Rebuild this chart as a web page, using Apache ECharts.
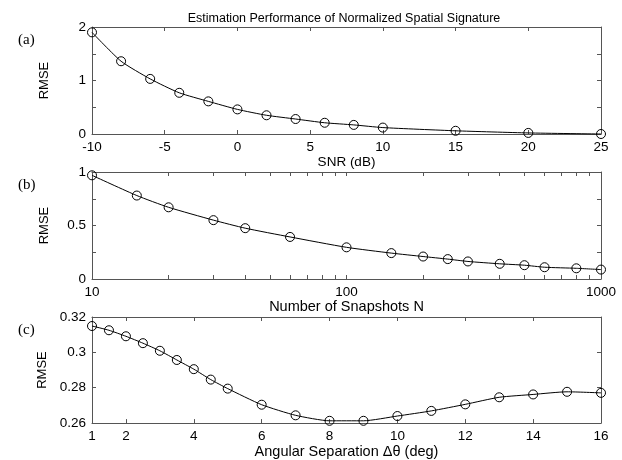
<!DOCTYPE html>
<html>
<head>
<meta charset="utf-8">
<script src="https://cdn.jsdelivr.net/npm/echarts@6/dist/echarts.min.js"></script>
<style>
	html, body { margin: 0; padding: 0; background: #fff; }
	#main { width: 622px; height: 460px; }
</style>
</head>
<body>
<div id="main"></div>
<script>
//////////// 데이터 ////////////
// (a) SNR
var snrX = [-10, -8, -6, -4, -2, 0, 2, 4, 6, 8, 10, 15, 20, 25];
var snrRmse = [1.9, 1.36, 1.03, 0.77, 0.61, 0.46, 0.35, 0.28, 0.21, 0.17, 0.12, 0.06, 0.02, 0.0];
var snrTickLabels = [-10, -5, 0, 5, 10, 15, 20, 25];
var snrRmseLabels = [0, 1, 2];

// (b) snapshots
var snapX = [10, 15, 20, 30, 40, 60, 100, 150, 200, 250, 300, 400, 500, 600, 800, 1000];
var snapRmse = [0.969, 0.78, 0.67, 0.55, 0.475, 0.393, 0.296, 0.242, 0.21, 0.186, 0.164, 0.142, 0.129, 0.11, 0.1, 0.088];
var snapTickLabels = [10, 100, 1000];
var snapTicks = [10, 20, 30, 40, 50, 60, 70, 80, 90, 100, 200, 300, 400, 500, 600, 700, 800, 900, 1000];
var snapRmseLabels = [0, 0.5, 1];

// (c) angular separation
var angX = [1, 1.5, 2, 2.5, 3, 3.5, 4, 4.5, 5, 6, 7, 8, 9, 10, 11, 12, 13, 14, 15, 16];
var angRmse = [0.3149, 0.3125, 0.3091, 0.3052, 0.3009, 0.2957, 0.2905, 0.2846, 0.2795, 0.2704, 0.2644, 0.2613, 0.2613, 0.264, 0.2669, 0.2706, 0.2746, 0.2762, 0.2777, 0.2771];
var angTickLabels = [1, 2, 4, 6, 8, 10, 12, 14, 16];
var angTicks = [2, 4, 6, 8, 10, 12, 14];

//////////// 차트 구성 ////////////
var FONT = 'Liberation Sans';
var AXIS_COLOR = '#555';

// 패널 위치
var panels = [
	{ top: 27, label: '(a)', name: 'SNR (dB)' },
	{ top: 172, label: '(b)', name: 'Number of Snapshots N' },
	{ top: 317, label: '(c)', name: 'Angular Separation \u0394\u03b8 (deg)' }
];

function pairs(xs, ys) {
	var out = [];
	for (var i = 0; i < xs.length; i++) out.push([xs[i], ys[i]]);
	return out;
}

// 축 하나 만들기 (보조축은 라벨 없음)
function makeAxis(gridIndex, position, base, withLabel) {
	var axis = {
		gridIndex: gridIndex,
		position: position,
		axisLine: { show: true, onZero: false, lineStyle: { color: AXIS_COLOR, width: 1 } },
		axisTick: { show: true, inside: true, length: 4, lineStyle: { color: AXIS_COLOR } },
		splitLine: { show: false },
		axisLabel: {
			show: withLabel, color: '#000', fontFamily: FONT, fontSize: 13.5, margin: 6,
			formatter: function(v) { return String(v); }
		}
	};
	for (var k in base) {
		if (k === 'axisTick' || k === 'axisLabel') {
			for (var j in base[k]) axis[k][j] = base[k][j];
		} else {
			axis[k] = base[k];
		}
	}
	return axis;
}

var grids = [];
var xAxes = [];
var yAxes = [];
var titles = [{
	text: 'Estimation Performance of Normalized Spatial Signature',
	left: 339, top: 7, textAlign: 'center',
	textStyle: { fontFamily: FONT, fontSize: 12.5, fontWeight: 'normal', color: '#000' }
}];

var xBases = [
	{ type: 'value', min: -10, max: 25, interval: 5, axisLabel: { customValues: snrTickLabels } },
	{ type: 'log', logBase: 10, min: 10, max: 1000, axisTick: { customValues: snapTicks }, axisLabel: { customValues: snapTickLabels } },
	{ type: 'value', min: 1, max: 16, interval: 1, axisTick: { customValues: angTicks }, axisLabel: { customValues: angTickLabels } }
];
var yBases = [
	{ type: 'value', min: 0, max: 2, interval: 0.5, axisLabel: { customValues: snrRmseLabels } },
	{ type: 'value', min: 0, max: 1, interval: 0.25, axisLabel: { customValues: snapRmseLabels } },
	{ type: 'value', min: 0.26, max: 0.32, interval: 0.02 }
];

panels.forEach(function(p, i) {
	grids.push({ left: 92, top: p.top, width: 509, height: 107, show: false });

	var xb = makeAxis(i, 'bottom', xBases[i], true);
	xb.name = p.name;
	xb.nameLocation = 'middle';
	xb.nameGap = 18;
	xb.nameTextStyle = { fontFamily: FONT, fontSize: i === 0 ? 13.5 : 14.5, color: '#000' };
	xAxes.push(xb);
	xAxes.push(makeAxis(i, 'top', xBases[i], false));

	var yl = makeAxis(i, 'left', yBases[i], true);
	yl.name = 'RMSE';
	yl.nameLocation = 'middle';
	yl.nameGap = 41;
	yl.nameTextStyle = { fontFamily: FONT, fontSize: 13, color: '#000' };
	yAxes.push(yl);
	yAxes.push(makeAxis(i, 'right', yBases[i], false));

	titles.push({
		text: p.label, left: 13, top: p.top + 1,
		textStyle: { fontFamily: 'Liberation Serif', fontSize: 15, fontWeight: 'normal', color: '#000' }
	});
});

function makeSeries(idx, data) {
	return {
		type: 'line',
		xAxisIndex: idx * 2,
		yAxisIndex: idx * 2,
		data: data,
		smooth: 0.2,
		clip: false,
		symbol: 'circle',
		symbolSize: 9,
		lineStyle: { color: '#000', width: 1 },
		itemStyle: { color: 'transparent', borderColor: '#000', borderWidth: 1 },
		animation: false
	};
}

var chart = echarts.init(document.getElementById('main'));
var option = {
	backgroundColor: '#fff',
	animation: false,
	title: titles,
	grid: grids,
	xAxis: xAxes,
	yAxis: yAxes,
	series: [
		makeSeries(0, pairs(snrX, snrRmse)),
		makeSeries(1, pairs(snapX, snapRmse)),
		makeSeries(2, pairs(angX, angRmse))
	]
};
chart.setOption(option);
</script>
</body>
</html>
